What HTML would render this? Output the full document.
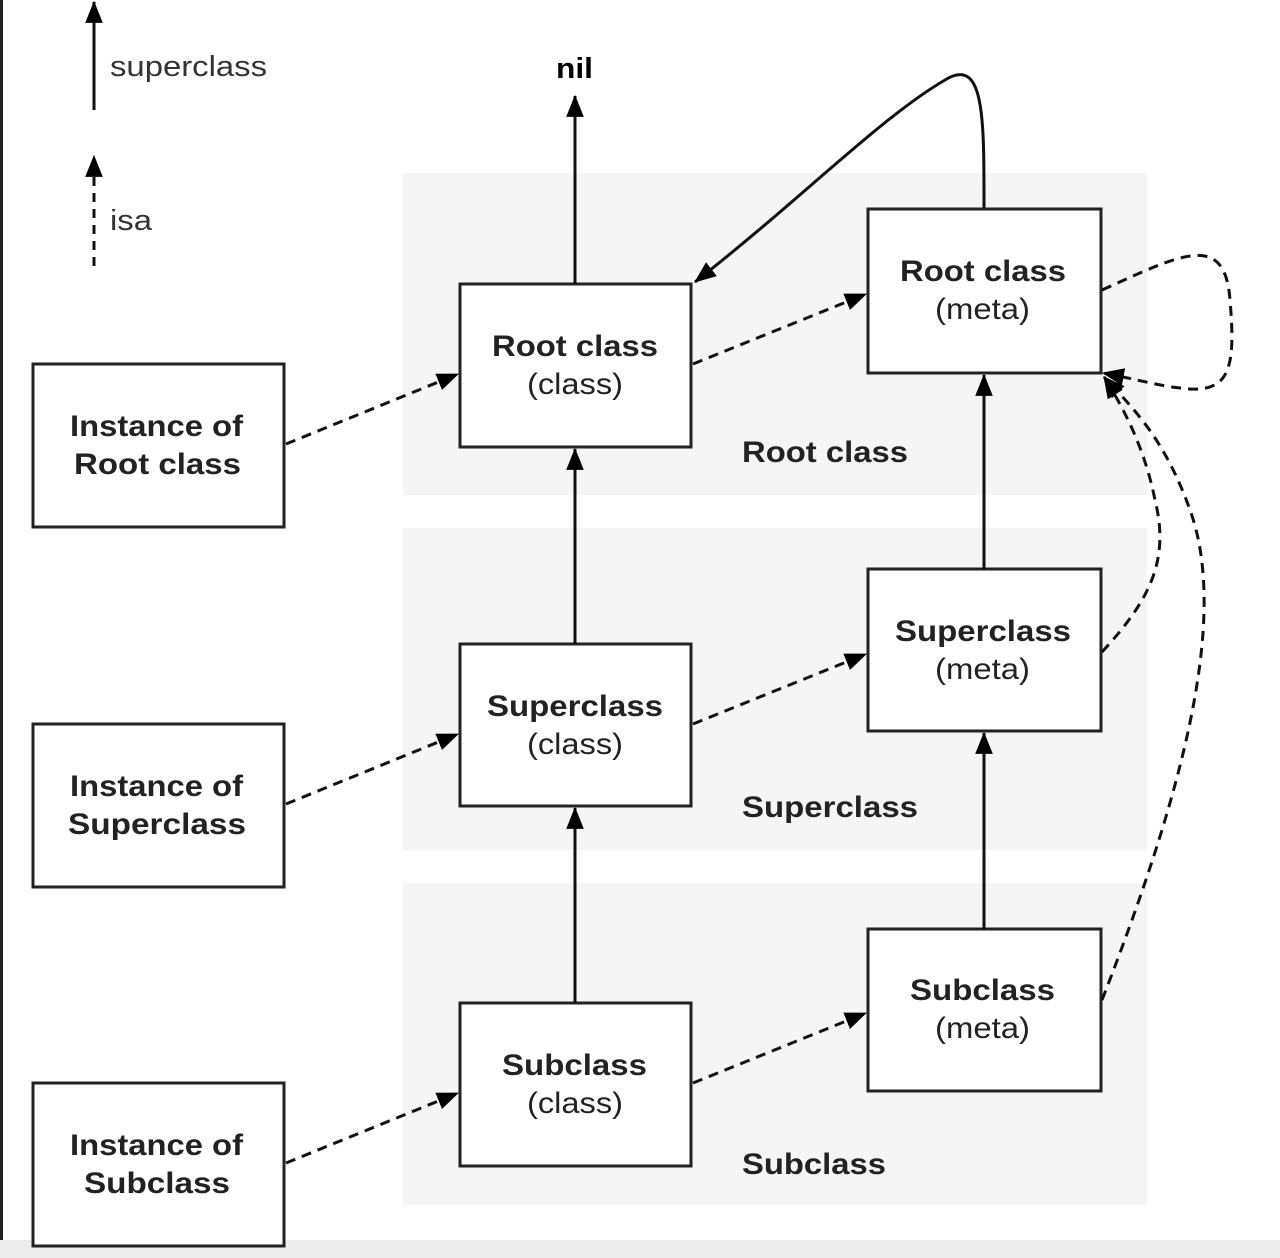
<!DOCTYPE html>
<html><head><meta charset="utf-8"><style>
html,body{margin:0;padding:0;background:#fff;}
svg{display:block;}
</style></head><body>
<svg width="1280" height="1258" viewBox="0 0 1280 1258" xmlns="http://www.w3.org/2000/svg" font-family="'Liberation Sans', Arial, sans-serif">
<defs>
<marker id="a" viewBox="0 0 20 20" refX="19" refY="10" markerWidth="22" markerHeight="22" markerUnits="userSpaceOnUse" orient="auto"><path d="M0,2 L20,10 L0,18 z" fill="#000"/></marker>
</defs>
<rect x="0" y="0" width="3" height="1258" fill="#222"/>
<rect x="0" y="1240" width="1280" height="18" fill="#ececec"/>
<g fill="#f5f5f5">
<rect x="403" y="173" width="744" height="322"/>
<rect x="403" y="528" width="744" height="322"/>
<rect x="403" y="883" width="744" height="322"/>
</g>
<line x1="94" y1="110" x2="94" y2="2" stroke="#111" stroke-width="3" marker-end="url(#a)"/>
<line x1="94" y1="266" x2="94" y2="156" stroke="#111" stroke-width="3" stroke-dasharray="9,7" marker-end="url(#a)"/>
<g lengthAdjust="spacingAndGlyphs">
<text x="110" y="76" font-size="29" fill="#333" textLength="157" lengthAdjust="spacingAndGlyphs">superclass</text>
<text x="110" y="230" font-size="29" fill="#333" textLength="42" lengthAdjust="spacingAndGlyphs">isa</text>
<text x="556" y="78" font-size="29" font-weight="bold" textLength="37" lengthAdjust="spacingAndGlyphs">nil</text>
</g>
<g fill="#fff" stroke="#222" stroke-width="3">
<rect x="33" y="364" width="251" height="163"/>
<rect x="33" y="724" width="251" height="163"/>
<rect x="33" y="1083" width="251" height="163"/>
<rect x="460" y="284" width="231" height="163"/>
<rect x="460" y="644" width="231" height="162"/>
<rect x="460" y="1003" width="231" height="163"/>
<rect x="868" y="209" width="233" height="164"/>
<rect x="868" y="569" width="233" height="162"/>
<rect x="868" y="929" width="233" height="162"/>
</g>
<g font-size="30" fill="#222">
<text x="70" y="436" font-weight="bold" textLength="173" lengthAdjust="spacingAndGlyphs">Instance of</text>
<text x="74" y="474" font-weight="bold" textLength="167" lengthAdjust="spacingAndGlyphs">Root class</text>
<text x="70" y="796" font-weight="bold" textLength="173" lengthAdjust="spacingAndGlyphs">Instance of</text>
<text x="68" y="834" font-weight="bold" textLength="178" lengthAdjust="spacingAndGlyphs">Superclass</text>
<text x="70" y="1155" font-weight="bold" textLength="173" lengthAdjust="spacingAndGlyphs">Instance of</text>
<text x="84" y="1193" font-weight="bold" textLength="146" lengthAdjust="spacingAndGlyphs">Subclass</text>

<text x="492" y="356" font-weight="bold" textLength="166" lengthAdjust="spacingAndGlyphs">Root class</text>
<text x="527" y="394" textLength="96" lengthAdjust="spacingAndGlyphs">(class)</text>
<text x="487" y="716" font-weight="bold" textLength="176" lengthAdjust="spacingAndGlyphs">Superclass</text>
<text x="527" y="754" textLength="96" lengthAdjust="spacingAndGlyphs">(class)</text>
<text x="502" y="1075" font-weight="bold" textLength="145" lengthAdjust="spacingAndGlyphs">Subclass</text>
<text x="527" y="1113" textLength="96" lengthAdjust="spacingAndGlyphs">(class)</text>

<text x="900" y="281" font-weight="bold" textLength="166" lengthAdjust="spacingAndGlyphs">Root class</text>
<text x="935" y="319" textLength="95" lengthAdjust="spacingAndGlyphs">(meta)</text>
<text x="895" y="641" font-weight="bold" textLength="176" lengthAdjust="spacingAndGlyphs">Superclass</text>
<text x="935" y="679" textLength="95" lengthAdjust="spacingAndGlyphs">(meta)</text>
<text x="910" y="1000" font-weight="bold" textLength="145" lengthAdjust="spacingAndGlyphs">Subclass</text>
<text x="935" y="1038" textLength="95" lengthAdjust="spacingAndGlyphs">(meta)</text>

<text x="742" y="462" font-weight="bold" textLength="166" lengthAdjust="spacingAndGlyphs">Root class</text>
<text x="742" y="817" font-weight="bold" textLength="176" lengthAdjust="spacingAndGlyphs">Superclass</text>
<text x="742" y="1174" font-weight="bold" textLength="144" lengthAdjust="spacingAndGlyphs">Subclass</text>
</g>
<g stroke="#111" stroke-width="3" fill="none">
<line x1="575" y1="284" x2="575" y2="96" marker-end="url(#a)"/>
<line x1="575" y1="644" x2="575" y2="449" marker-end="url(#a)"/>
<line x1="575" y1="1003" x2="575" y2="808" marker-end="url(#a)"/>
<line x1="984" y1="569" x2="984" y2="375" marker-end="url(#a)"/>
<line x1="984" y1="929" x2="984" y2="733" marker-end="url(#a)"/>
<path d="M984,208 C984,120 985,55 945,80 C880,118 800,200 695,282" marker-end="url(#a)"/>
</g>
<g stroke="#111" stroke-width="3" fill="none" stroke-dasharray="10,7">
<line x1="286" y1="444" x2="458" y2="374" marker-end="url(#a)"/>
<line x1="286" y1="804" x2="458" y2="734" marker-end="url(#a)"/>
<line x1="286" y1="1163" x2="458" y2="1093" marker-end="url(#a)"/>
<line x1="693" y1="364" x2="866" y2="294" marker-end="url(#a)"/>
<line x1="693" y1="724" x2="866" y2="654" marker-end="url(#a)"/>
<line x1="693" y1="1083" x2="866" y2="1013" marker-end="url(#a)"/>
<path d="M1102,290 C1180,255 1225,230 1230,300 C1236,370 1230,395 1180,388 C1160,386 1140,380 1103,373" marker-end="url(#a)"/>
<path d="M1102,652 C1150,600 1170,560 1155,500 C1145,450 1125,410 1104,377" marker-end="url(#a)"/>
<path d="M1102,1000 C1180,800 1230,620 1190,510 C1165,440 1135,410 1104,377" marker-end="url(#a)"/>
</g>
</svg>
</body></html>
